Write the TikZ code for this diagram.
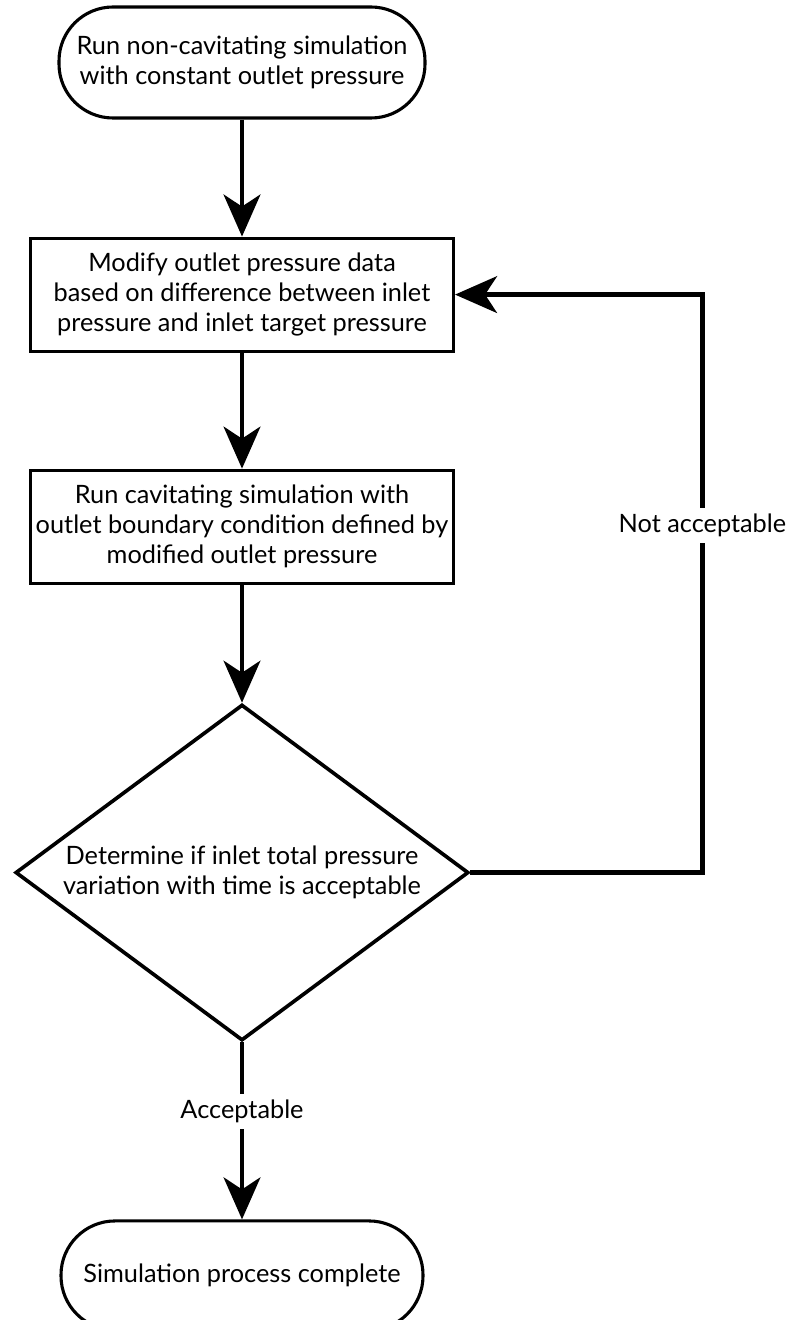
\documentclass[tikz,border=0pt]{standalone}
\usepackage{fontspec}
\setmainfont{Lato}
\usetikzlibrary{arrows.meta,positioning,shapes.geometric}
\tikzset{
  every node/.style={font=\fontsize{18}{21.3}\selectfont},
  term/.style={draw,line width=2.2pt,rounded corners=13.5mm,align=center,inner sep=0pt},
  proc/.style={draw,line width=2.2pt,align=center,minimum width=105.75mm,minimum height=28.25mm,inner sep=0pt},
  decide/.style={draw,diamond,line width=2.6pt,align=center,shape aspect=1.35,minimum width=113.3mm,minimum height=84mm,inner sep=0pt},
  arrow/.style={-{Stealth[length=10.5mm,width=9.2mm,inset=3mm]},line width=3pt},
  labelbox/.style={fill=white,inner xsep=2pt,inner ysep=1.5mm}
}
\begin{document}
\begin{tikzpicture}
  \useasboundingbox (0,0) rectangle (19.9,-33);
  \node[term,minimum width=91.5mm,minimum height=27.75mm] (start) at (6.05,-1.5625) {Run non-cavitating simulation\\with constant outlet pressure};
  \node[proc,below=29.25mm of start] (modify) {Modify outlet pressure data\\based on difference between inlet\\pressure and inlet target pressure};
  \node[proc,below=29mm of modify] (run) {Run cavitating simulation with\\outlet boundary condition defined by\\modified outlet pressure};
  \node[decide,below=29.5mm of run] (check) {Determine if inlet total pressure\\variation with time is acceptable};
  \node[term,minimum width=90.5mm,minimum height=27.25mm,below=44.25mm of check] (done) {Simulation process complete};

  \draw[arrow] (start) -- (modify);
  \draw[arrow] (modify) -- (run);
  \draw[arrow] (run) -- (check);
  \draw[arrow] (check.east) -- ++(5.8,0) |- node[pos=0.3,labelbox]{Not acceptable} (modify.east);
  \draw[arrow] (check.south) -- node[pos=0.39,labelbox]{Acceptable} (done.north);
\end{tikzpicture}
\end{document}
